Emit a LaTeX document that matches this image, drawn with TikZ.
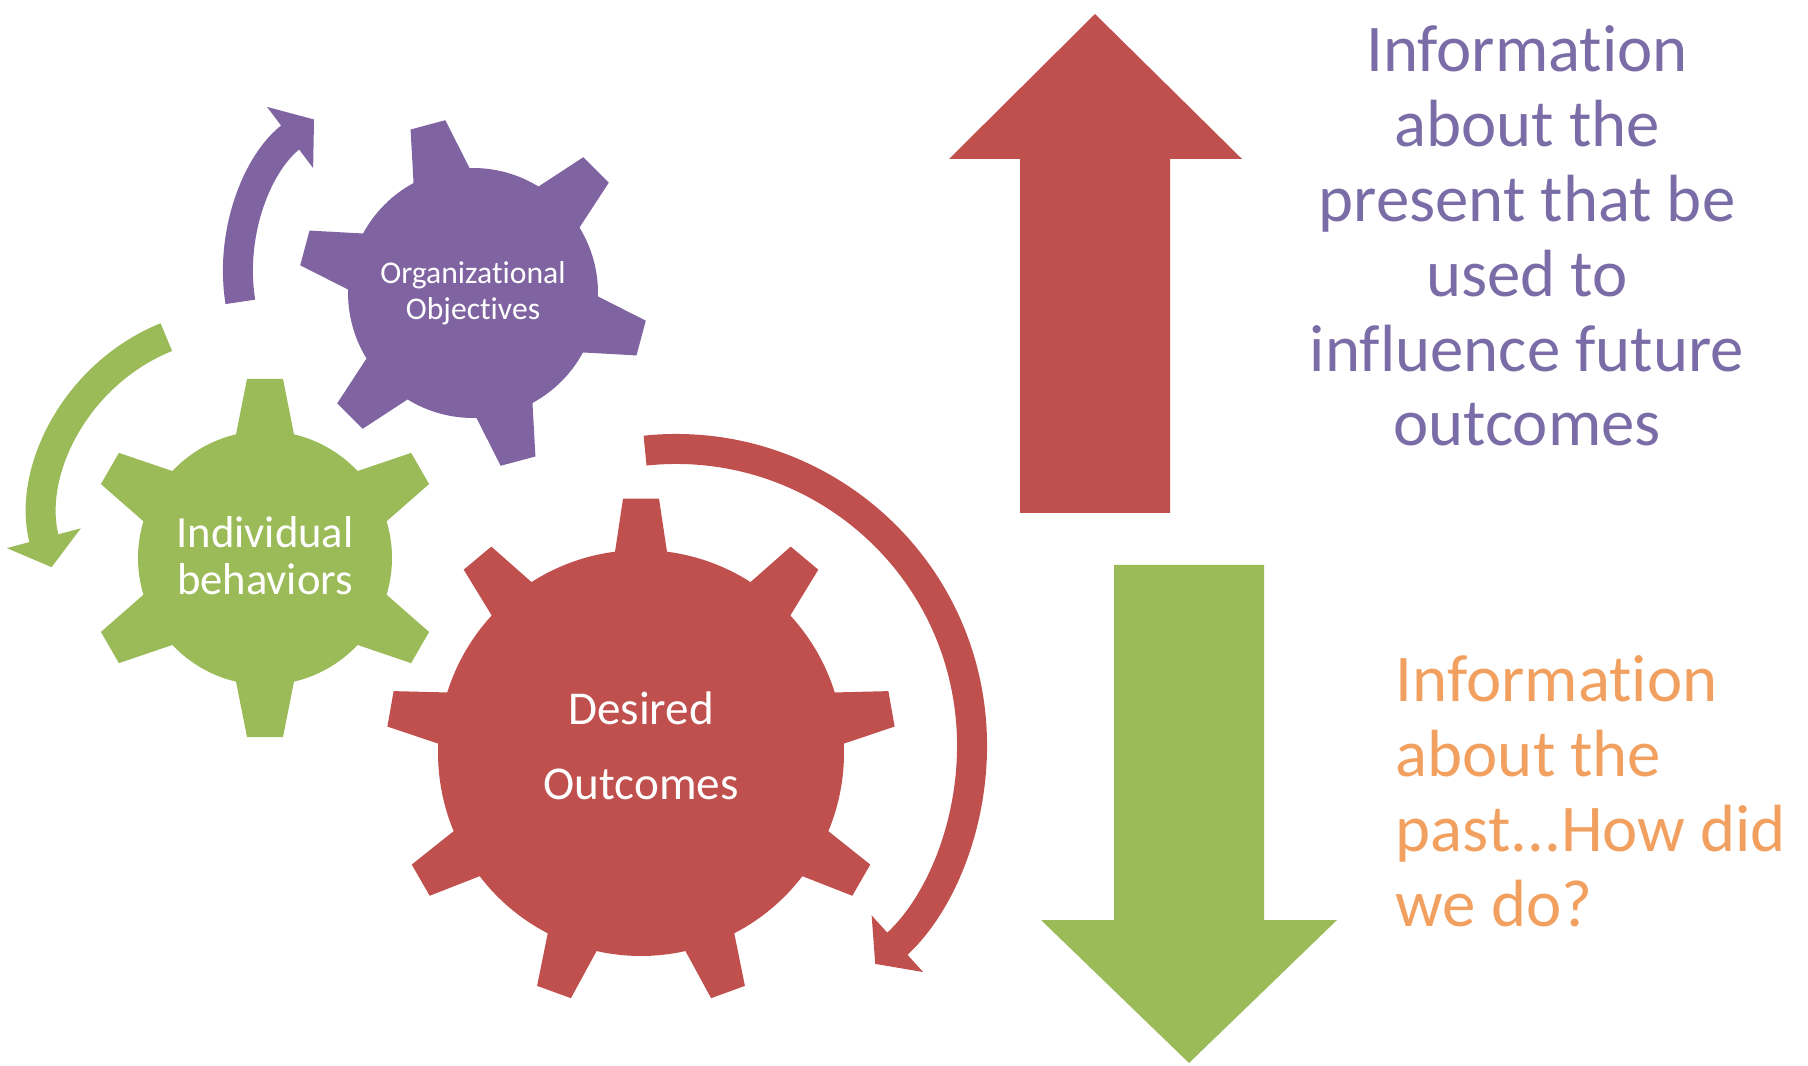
\documentclass[tikz,border=0pt]{standalone}
\usepackage{fontspec}
\setmainfont{Carlito}[Ligatures={NoCommon,NoContextual}]
\usetikzlibrary{calc,arrows.meta}

\definecolor{gearred}{HTML}{C0504D}
\definecolor{geargreen}{HTML}{9BBB59}
\definecolor{gearpurple}{HTML}{8064A2}
\definecolor{textpurple}{RGB}{122,108,166}
\definecolor{textorange}{RGB}{242,160,95}

% [fill]{centre}{body radius}{tip radius}{teeth}{first tooth angle}{half width at body}{half width at tip}
\newcommand{\gear}[8][]{%
  \pgfmathsetmacro\gstep{360/#5}%
  \pgfmathsetmacro\gbase{asin(#7/#3)}%
  \pgfmathsetmacro\gtip{asin(#8/#4)}%
  \fill[#1] ($(#2)+({#6+\gbase}:#3)$)
    \foreach \k in {1,...,#5}{
      -- ($(#2)+({#6-(\k-1)*\gstep+\gtip}:#4)$)
      -- ($(#2)+({#6-(\k-1)*\gstep-\gtip}:#4)$)
      -- ($(#2)+({#6-(\k-1)*\gstep-\gbase}:#3)$)
      arc[start angle={#6-(\k-1)*\gstep-\gbase}, end angle={#6-\k*\gstep+\gbase}, radius=#3]
    } -- cycle;
}

\tikzset{
  turnarrow/.style={line width=3mm, -{Triangle[length=3mm,width=7.5mm]}},
  geartext/.style={white, align=center, inner sep=0pt},
  bigtext/.style={font=\fontsize{19}{21.3}\selectfont, inner sep=0pt}
}

\begin{document}
\begin{tikzpicture}
\useasboundingbox (0,0) rectangle (18.08,10.65);

\coordinate (orggear) at (4.73,7.72);
\coordinate (indgear) at (2.65,5.07);
\coordinate (outgear) at (6.41,3.12);

% gears
\gear[gearpurple]{orggear}{1.25}{1.75}{6}{105}{0.29}{0.18}
\gear[geargreen]{indgear}{1.27}{1.80}{6}{90}{0.29}{0.18}
\gear[gearred]{outgear}{2.03}{2.55}{9}{90}{0.26}{0.18}

\node[geartext, font=\fontsize{9}{10.2}\selectfont] (orgtext) at (orggear) {Organizational\\Objectives};
\node[geartext, font=\fontsize{12.7}{13.4}\selectfont] (indtext) at ([yshift=0.02cm]indgear) {Individual\\behaviors};
\node[geartext, font=\fontsize{13.4}{21.3}\selectfont] (outtext) at ([yshift=0.07cm]outgear) {Desired\\Outcomes};

% turning arrows round the gears
\coordinate (orgturn) at (4.29,7.93);
\coordinate (indturn) at (2.39,5.48);
\coordinate (outturn) at (6.76,3.20);
\draw[turnarrow, gearpurple] ([shift={(189:1.91)}]orgturn) arc[start angle=189, end angle=127, radius=1.91];
\draw[turnarrow, geargreen] ([shift={(112:1.94)}]indturn) arc[start angle=112, end angle=195, radius=1.94];
\draw[turnarrow, gearred] ([shift={(96:2.96)}]outturn) arc[start angle=96, end angle=-47.7, radius=2.96];

% up and down block arrows
\fill[gearred] (10.20,5.52) -- (10.20,9.06) -- (9.49,9.06) -- (10.95,10.51)
  -- (12.42,9.06) -- (11.70,9.06) -- (11.70,5.52) -- cycle;
\fill[geargreen] (11.14,5.00) -- (12.64,5.00) -- (12.64,1.45) -- (13.37,1.45)
  -- (11.89,0.02) -- (10.41,1.45) -- (11.14,1.45) -- cycle;

\node[bigtext, textpurple, align=center, anchor=north] (present) at (15.27,10.40)
  {Information\\about the\\present that be\\used to\\influence future\\outcomes};
\node[bigtext, textorange, align=left, anchor=north west] (past) at (13.95,4.10)
  {Information\\about the\\past...How did\\we do?};
\end{tikzpicture}
\end{document}
